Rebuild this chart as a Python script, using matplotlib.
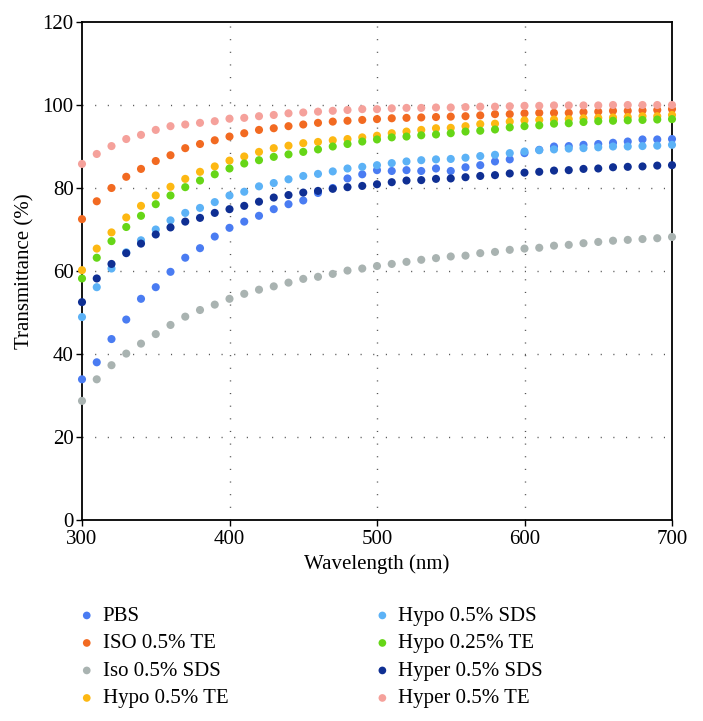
import numpy as np
import matplotlib
matplotlib.use("Agg")
import matplotlib.pyplot as plt

wavelength = list(range(300, 701, 10))

pbs = [33.9, 38.0, 43.6, 48.3, 53.3, 56.1, 59.8, 63.2, 65.5, 68.3,
       70.4, 71.9, 73.3, 74.9, 76.1, 77.0, 78.8, 80.0, 82.3, 83.3,
       84.3, 84.1, 84.3, 84.1, 84.7, 84.1, 85.0, 85.5, 86.4, 86.9,
       88.4, 89.2, 90.0, 90.1, 90.4, 90.6, 90.9, 91.2, 91.7, 91.7, 91.8]
iso_te = [72.5, 76.8, 80.0, 82.7, 84.6, 86.5, 87.9, 89.6, 90.6, 91.5,
          92.4, 93.2, 94.0, 94.4, 94.9, 95.3, 95.7, 96.0, 96.2, 96.4,
          96.6, 96.8, 96.9, 97.0, 97.1, 97.2, 97.3, 97.5, 97.8, 97.8,
          98.0, 98.1, 98.1, 98.1, 98.3, 98.4, 98.6, 98.6, 98.7, 98.8, 99.0]
iso_sds = [28.7, 33.9, 37.3, 40.1, 42.5, 44.8, 47.0, 49.0, 50.6, 51.9,
           53.3, 54.5, 55.5, 56.3, 57.2, 58.1, 58.6, 59.3, 60.1, 60.6,
           61.2, 61.7, 62.2, 62.7, 63.1, 63.5, 63.7, 64.3, 64.6, 65.1,
           65.4, 65.6, 66.1, 66.3, 66.7, 67.0, 67.3, 67.5, 67.7, 67.9, 68.2]
hypo_te = [60.2, 65.4, 69.3, 72.9, 75.7, 78.2, 80.3, 82.2, 83.9, 85.2,
           86.6, 87.6, 88.7, 89.6, 90.2, 90.8, 91.1, 91.5, 91.8, 92.2,
           92.6, 93.2, 93.6, 94.0, 94.4, 94.5, 94.9, 95.4, 95.5, 96.0,
           96.3, 96.4, 96.5, 96.6, 96.8, 96.9, 97.0, 97.1, 97.3, 97.3, 97.6]
hypo_sds = [48.9, 56.1, 60.6, 64.5, 67.4, 70.0, 72.2, 74.0, 75.2, 76.6,
            78.2, 79.1, 80.4, 81.2, 82.1, 82.9, 83.4, 84.0, 84.7, 85.1,
            85.5, 86.0, 86.4, 86.7, 86.9, 87.0, 87.3, 87.7, 88.0, 88.4,
            88.8, 89.1, 89.3, 89.5, 89.6, 89.8, 90.0, 90.0, 90.1, 90.2, 90.4]
hypo_025_te = [58.2, 63.2, 67.2, 70.6, 73.3, 76.1, 78.2, 80.2, 81.8, 83.3,
               84.7, 85.9, 86.7, 87.5, 88.1, 88.7, 89.3, 90.0, 90.6, 91.2,
               91.7, 92.2, 92.4, 92.7, 92.9, 93.2, 93.6, 93.8, 94.1, 94.6,
               94.9, 95.1, 95.5, 95.6, 95.9, 96.1, 96.2, 96.3, 96.4, 96.5, 96.6]
hyper_sds = [52.5, 58.2, 61.7, 64.3, 66.6, 68.8, 70.5, 71.9, 72.8, 74.0,
             74.9, 75.7, 76.7, 77.7, 78.3, 78.9, 79.3, 79.8, 80.2, 80.5,
             80.9, 81.4, 81.8, 81.9, 82.2, 82.3, 82.6, 82.9, 83.1, 83.5,
             83.7, 83.9, 84.2, 84.3, 84.6, 84.7, 85.0, 85.1, 85.2, 85.4, 85.5]
hyper_te = [85.8, 88.2, 90.1, 91.8, 92.8, 94.0, 94.9, 95.3, 95.7, 96.1,
            96.7, 96.9, 97.3, 97.6, 98.0, 98.2, 98.4, 98.6, 98.8, 99.0,
            99.0, 99.2, 99.3, 99.3, 99.4, 99.4, 99.5, 99.6, 99.6, 99.7,
            99.8, 99.8, 99.9, 99.9, 99.9, 99.9, 100.0, 100.0, 100.0, 100.0, 100.0]

labels = ["PBS", "ISO 0.5% TE", "Iso 0.5% SDS", "Hypo 0.5% TE",
          "Hypo 0.5% SDS", "Hypo 0.25% TE", "Hyper 0.5% SDS", "Hyper 0.5% TE"]
series = [pbs, iso_te, iso_sds, hypo_te, hypo_sds, hypo_025_te, hyper_sds, hyper_te]
colors = ["#4a7cf2", "#f26a21", "#a9b3b1", "#fdb813",
          "#5cb2f6", "#66d617", "#0f2f93", "#f5a19b"]
xticks = [300, 400, 500, 600, 700]
yticks = [0, 20, 40, 60, 80, 100, 120]

plt.rcParams['font.family'] = ['Liberation Serif', 'DejaVu Serif']

W, H = 703, 721
fig = plt.figure(figsize=(W / 100, H / 100), dpi=100)
ax = fig.add_axes([82 / W, 1 - 520 / H, (672 - 82) / W, (520 - 22) / H])

handles = []
for vals, lab, col in zip(series, labels, colors):
    h = ax.scatter(wavelength, vals, s=34, color=col, edgecolors='none',
                   label=lab, zorder=3, clip_on=False)
    handles.append(h)

ax.set_xlim(300, 700)
ax.set_ylim(0, 120)
ax.set_xticks(xticks)
ax.set_yticks(yticks)
ax.tick_params(axis='both', direction='out', length=4, width=1.0,
               labelsize=15, colors='black')
ax.tick_params(axis='x', pad=3)
ax.tick_params(axis='y', pad=2)
for sp in ax.spines.values():
    sp.set_linewidth(1.3)
    sp.set_color('black')
    sp.set_zorder(2)

for x in xticks[1:-1]:
    ax.axvline(x, color='#555555', linewidth=1.0, linestyle=(0, (0.8, 8.3)), zorder=1)
for y in yticks[1:-1]:
    ax.axhline(y, color='#555555', linewidth=1.0, linestyle=(0, (0.8, 8.3)), zorder=1)

ax.set_xlabel("Wavelength (nm)", fontsize=15, labelpad=4)
ax.set_ylabel("Transmittance (%)", fontsize=15, labelpad=6)

leg = fig.legend(handles=handles, labels=labels, ncol=2, frameon=False,
                 loc='upper left', bbox_to_anchor=(68 / W, 1 - 598 / H),
                 fontsize=15, markerscale=0.95, handletextpad=0.26,
                 columnspacing=6.9, labelspacing=0.38, handlelength=1.0,
                 borderaxespad=0)

fig.savefig("out.png", dpi=100)
